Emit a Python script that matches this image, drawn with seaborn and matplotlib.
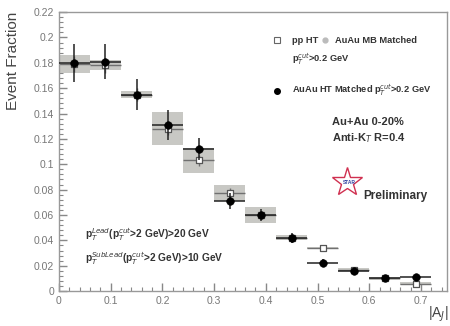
import matplotlib
matplotlib.use("Agg")
import matplotlib.pyplot as plt
import seaborn as sns
import numpy as np
import pandas as pd
from matplotlib.ticker import MultipleLocator

# ---- data ----
aj = [0.03, 0.09, 0.15, 0.21, 0.27, 0.33, 0.39, 0.45, 0.51, 0.57, 0.63, 0.69]
auau_ht = [0.180, 0.181, 0.155, 0.131, 0.112, 0.071, 0.060, 0.042, 0.022, 0.016, 0.010, 0.011]
auau_err = [0.015, 0.014, 0.012, 0.012, 0.009, 0.006, 0.005, 0.004, 0.003, 0.002, 0.002, 0.002]
pp_ht = [0.179, 0.178, 0.155, 0.128, 0.103, 0.0775, 0.060, 0.042, 0.034, 0.017, 0.010, 0.006]
pp_err = [0.006, 0.006, 0.005, 0.005, 0.004, 0.004, 0.003, 0.003, 0.002, 0.002, 0.002, 0.002]
pp_sys = [0.007, 0.004, 0.003, 0.013, 0.010, 0.0065, 0.0065, 0.002, 0.001, 0.001, 0.001, 0.001]
bin_halfwidth = [0.03] * 12

df_au = pd.DataFrame({"aj": aj, "frac": auau_ht})
df_pp = pd.DataFrame({"aj": aj, "frac": pp_ht})

sns.set_theme(style="ticks")
plt.rcParams['font.family'] = ['Liberation Sans', 'DejaVu Sans']

fig = plt.figure(figsize=(4.5, 3.26), dpi=100)
ax = fig.add_axes([0.131, 0.107, 0.862, 0.856])

# systematic boxes
sys_arr = np.array(pp_sys)
pp_arr = np.array(pp_ht)
ax.bar(aj, 2 * sys_arr, bottom=pp_arr - sys_arr, width=0.06,
       color="#c8c8c4", edgecolor="none", zorder=1)

# pp HT error bars + open squares
ax.errorbar(aj, pp_ht, yerr=pp_err, xerr=bin_halfwidth, fmt="none",
            ecolor="#707070", elinewidth=1.0, zorder=2)
sns.scatterplot(data=df_pp, x="aj", y="frac", marker="s", s=22,
                facecolor="white", edgecolor="#555555", linewidth=0.9,
                ax=ax, zorder=3, legend=False)

# AuAu HT matched
ax.errorbar(aj, auau_ht, yerr=auau_err, xerr=bin_halfwidth, fmt="none",
            ecolor="#222222", elinewidth=1.1, zorder=4)
sns.scatterplot(data=df_au, x="aj", y="frac", marker="o", s=30,
                color="black", edgecolor="black", ax=ax, zorder=5, legend=False)

ax.set_xlim(0, 0.75)
ax.set_ylim(0, 0.22)
ax.xaxis.set_major_locator(MultipleLocator(0.1))
ax.xaxis.set_minor_locator(MultipleLocator(0.02))
ax.yaxis.set_major_locator(MultipleLocator(0.02))
ax.yaxis.set_minor_locator(MultipleLocator(0.004))
ax.tick_params(which="both", direction="in", colors="#888888", labelcolor="#777777",
               labelsize=7.5, top=False, right=False)
ax.tick_params(which="major", length=6, width=1.0)
ax.tick_params(which="minor", length=3, width=0.8)
ax.set_yticks(np.arange(0, 0.2201, 0.02))
ax.set_yticklabels(["0", "0.02", "0.04", "0.06", "0.08", "0.1", "0.12", "0.14",
                    "0.16", "0.18", "0.2", "0.22"])
ax.set_xticks(np.arange(0, 0.701, 0.1))
ax.set_xticklabels(["0", "0.1", "0.2", "0.3", "0.4", "0.5", "0.6", "0.7"])
for sp in ax.spines.values():
    sp.set_color("#999999")
    sp.set_linewidth(1.0)
ax.set_xlabel("")
ax.set_ylabel("")

fig.text(0.028, 0.965, "Event Fraction", rotation=90, ha="center", va="top",
         fontsize=11, color="#444444")
fig.text(0.997, 0.005, r"|A$_J$|", ha="right", va="bottom", fontsize=10, color="#444444")

# legend-like texts
tc = "#333333"
fs = 6.7
ax.plot([0.422], [0.1978], marker="s", ms=4.5, mfc="white", mec="#666666", mew=0.8)
ax.text(0.451, 0.1978, "pp HT", fontsize=fs, color=tc, va="center", fontweight="bold")
ax.plot([0.515], [0.1978], marker="o", ms=3.5, mfc="#bbbbbb", mec="#bbbbbb")
ax.text(0.533, 0.1978, "AuAu MB Matched", fontsize=fs, color=tc, va="center", fontweight="bold")
ax.text(0.451, 0.183, r"p$_T^{cut}$>0.2 GeV", fontsize=fs, color=tc, va="center", fontweight="bold")
ax.plot([0.422], [0.158], marker="o", ms=4, mfc="black", mec="black")
ax.text(0.451, 0.158, r"AuAu HT Matched p$_T^{cut}$>0.2 GeV", fontsize=fs, color=tc,
        va="center", fontweight="bold")
ax.text(0.528, 0.1335, "Au+Au 0-20%", fontsize=8, color=tc, va="center", fontweight="bold")
ax.text(0.528, 0.1206, r"Anti-K$_T$ R=0.4", fontsize=8, color=tc, va="center", fontweight="bold")

# STAR preliminary
ax.plot([0.557], [0.0857], marker="*", ms=22, mfc="none", mec="#d03050", mew=1.0)
ax.text(0.561, 0.0855, "STAR", fontsize=3.5, color="#3040a0", ha="center", va="center",
        fontweight="bold")
ax.text(0.588, 0.0748, "Preliminary", fontsize=8.5, color="#333333", va="center",
        fontweight="bold")

ax.text(0.05, 0.0444, r"p$_T^{Lead}$(p$_T^{cut}$>2 GeV)>20 GeV", fontsize=7.3,
        color=tc, va="center", fontweight="bold")
ax.text(0.05, 0.026, r"p$_T^{SubLead}$(p$_T^{cut}$>2 GeV)>10 GeV", fontsize=7.3,
        color=tc, va="center", fontweight="bold")

fig.savefig("out.png", dpi=100)
